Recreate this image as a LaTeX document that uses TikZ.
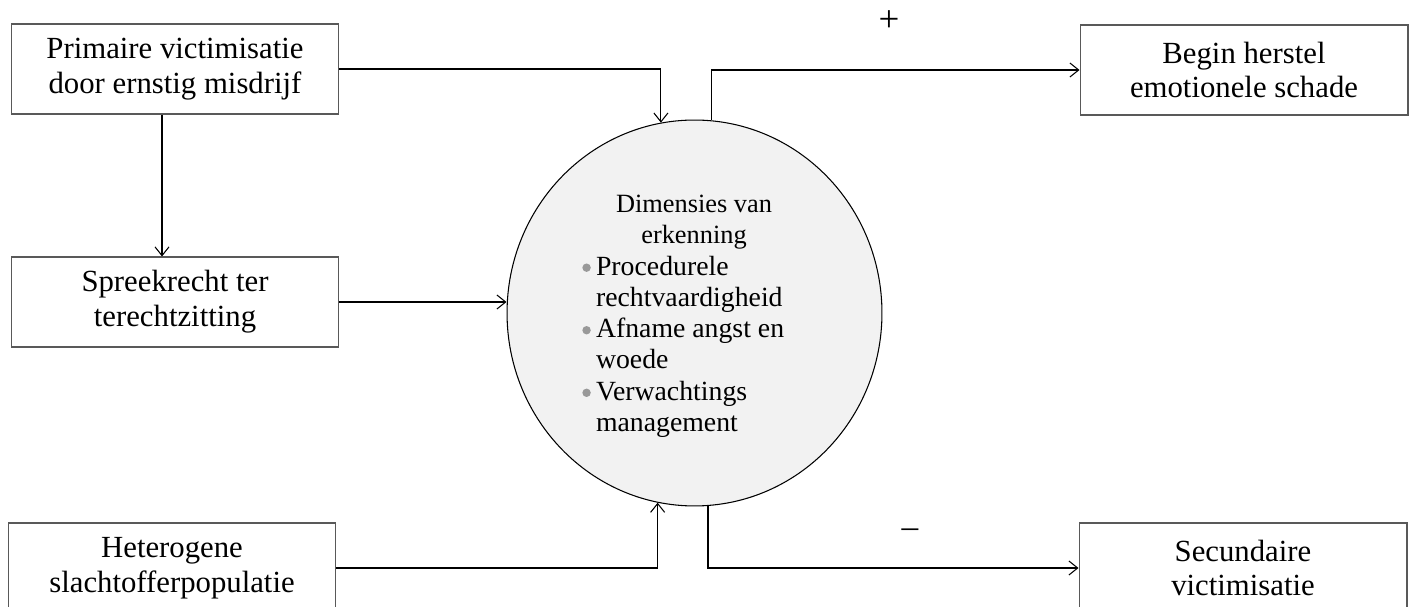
\documentclass[tikz,border=0pt]{standalone}
\usepackage{fontspec}
\setmainfont{Liberation Serif}
\usetikzlibrary{arrows.meta,shapes.geometric}

\newcommand\dimbul{\raisebox{1.8pt}{\tikz\fill[black!40] (0,0) circle (2.4pt);}}

\tikzset{
  box/.style={draw=black!65, line width=0.6pt, minimum width=6.56cm, minimum height=1.8cm,
    align=center, inner sep=0pt, font=\fontsize{17.5}{19.8}\selectfont},
  arr/.style={-{Straight Barb[length=5pt,width=8pt]}, line width=0.6pt},
}

\begin{document}
\begin{tikzpicture}[x=0.02cm,y=-0.02cm]
\useasboundingbox (0,0) rectangle (1414,607);
\clip (0,0) rectangle (1414,607);

% Causes on the left
\node[box] (prim) at (175,69) {Primaire victimisatie\\door ernstig misdrijf};
\node[box] (spr) at (175,302) {Spreekrecht ter\\terechtzitting};
\node[box] (het) at (172,568) {Heterogene\\slachtofferpopulatie};

% Effects on the right
\node[box] (begin) at (1244,70) {Begin herstel\\emotionele schade};
\node[box] (sec) at (1243,568) {Secundaire\\victimisatie};

% Dimensions of recognition
\node[ellipse, draw, line width=0.6pt, fill=black!5, minimum width=7.5cm, minimum height=7.72cm, inner sep=0pt] (circ) at (694.5,313) {};
\node[align=center, inner sep=0pt, font=\fontsize{15}{17.9}\selectfont] (title) at (694,222) {Dimensies van\\erkenning};
\node[anchor=west, inner sep=0pt, font=\fontsize{15.8}{17.8}\selectfont] (dims) at (582,347) {%
  \begin{tabular}{@{}l@{\hspace{3pt}}l@{}}
  \dimbul & Procedurele\\
          & rechtvaardigheid\\
  \dimbul & Afname angst en\\
          & woede\\
  \dimbul & Verwachtings\\
          & management
  \end{tabular}};

% Arrows
\draw[arr] ([xshift=-0.26cm]prim.south) -- ([xshift=-0.26cm]spr.north);
\draw[arr] (prim.east) -| (circ.100);
\draw[arr] (spr.east) -- (spr.east -| circ.west);
\draw[arr] (het.east) -| (circ.259);
\draw[arr] (circ.85) |- (begin.west);
\draw[arr] (circ.274) |- (sec.west);

% Signs
\node[font=\fontsize{21}{22}\selectfont] (plus) at (889,21) {+};
\node[font=\fontsize{19}{22}\selectfont] (minus) at (910,533) {–};
\end{tikzpicture}
\end{document}
